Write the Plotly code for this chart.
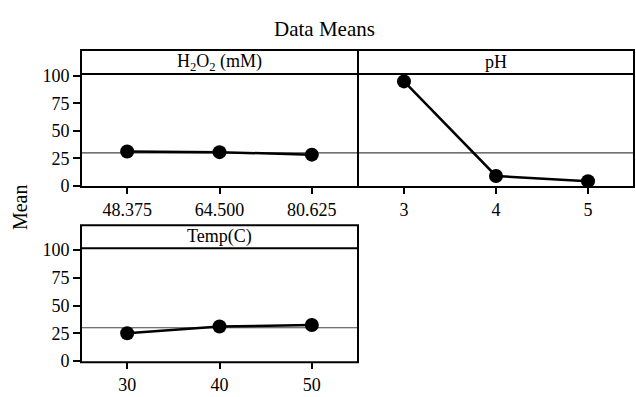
import plotly.graph_objects as go

# ---- data ----
h2o2_levels = [48.375, 64.500, 80.625]
h2o2_labels = ["48.375", "64.500", "80.625"]
h2o2_means = [31.3, 30.7, 28.4]

ph_levels = [3, 4, 5]
ph_labels = ["3", "4", "5"]
ph_means = [95.0, 9.0, 4.3]

temp_levels = [30, 40, 50]
temp_labels = ["30", "40", "50"]
temp_means = [25.1, 31.1, 32.5]

grand_mean = 30.0
y_ticks = [0, 25, 50, 75, 100]

FONT = "Liberation Serif"
W, H = 636, 397

def px(x):
    return x / W

def py(y):
    return 1 - y / H

fig = go.Figure()

panels = [
    ("H<sub>2</sub>O<sub>2</sub> (mM)", h2o2_levels, h2o2_labels, h2o2_means, "x", "y", 81, 358, 44, 69, 187, True),
    ("pH", ph_levels, ph_labels, ph_means, "x2", "y2", 358, 634, 44, 69, 187, False),
    ("Temp(C)", temp_levels, temp_labels, temp_means, "x3", "y3", 81, 358, 227, 251, 370, True),
]

layout_axes = {}
for i, (name, lev, lab, means, xa, ya, x0, x1, st, dt, db, showy) in enumerate(panels):
    fig.add_trace(go.Scatter(
        x=lev, y=means, xaxis=xa, yaxis=ya, mode="lines+markers",
        line=dict(color="black", width=2.5),
        marker=dict(color="black", size=14),
        showlegend=False, hoverinfo="skip",
    ))
    step = lev[1] - lev[0]
    xkey = "xaxis" if i == 0 else f"xaxis{i+1}"
    ykey = "yaxis" if i == 0 else f"yaxis{i+1}"
    layout_axes[xkey] = dict(
        domain=[px(x0), px(x1)], anchor=ya,
        range=[lev[0] - step / 2, lev[-1] + step / 2],
        tickvals=lev, ticktext=lab, ticks="outside", ticklen=6, tickwidth=2,
        tickcolor="black", showgrid=False, zeroline=False, showline=False,
        tickfont=dict(family=FONT, size=18, color="black"),
    )
    layout_axes[ykey] = dict(
        domain=[py(db), py(dt)], anchor=xa,
        range=[-1.0, 101.7],
        tickvals=y_ticks if showy else [],
        ticks="outside" if showy else "", ticklen=7, tickwidth=2,
        tickcolor="black", showgrid=False, zeroline=False, showline=False,
        showticklabels=showy,
        tickfont=dict(family=FONT, size=18, color="black"),
    )
    # reference line (grand mean)
    fig.add_shape(type="line", xref=f"{xa} domain", yref=ya, x0=0, x1=1,
                  y0=grand_mean, y1=grand_mean, line=dict(color="#444", width=1.2),
                  layer="below")
    # full panel box
    fig.add_shape(type="rect", xref="paper", yref="paper",
                  x0=px(x0), x1=px(x1), y0=py(db), y1=py(st),
                  line=dict(color="black", width=2))
    # strip separator
    fig.add_shape(type="line", xref="paper", yref="paper",
                  x0=px(x0), x1=px(x1), y0=py(dt), y1=py(dt),
                  line=dict(color="black", width=2))
    fig.add_annotation(x=(px(x0) + px(x1)) / 2, y=py((st + dt) / 2), xref="paper", yref="paper",
                       xanchor="center", yanchor="middle",
                       text=name, showarrow=False,
                       font=dict(family=FONT, size=18, color="black"))

fig.add_annotation(x=px(324), y=py(22), xref="paper", yref="paper",
                   xanchor="center", yanchor="middle",
                   text="Data Means", showarrow=False,
                   font=dict(family=FONT, size=21, color="black"))
fig.add_annotation(x=px(20), y=py(208), xref="paper", yref="paper",
                   xanchor="center", yanchor="middle",
                   text="Mean", showarrow=False, textangle=-90,
                   font=dict(family=FONT, size=20, color="black"))

fig.update_layout(
    width=W, height=H, margin=dict(l=0, r=0, t=0, b=0),
    paper_bgcolor="white", plot_bgcolor="white",
    **layout_axes,
)

fig.write_html("out.html")
